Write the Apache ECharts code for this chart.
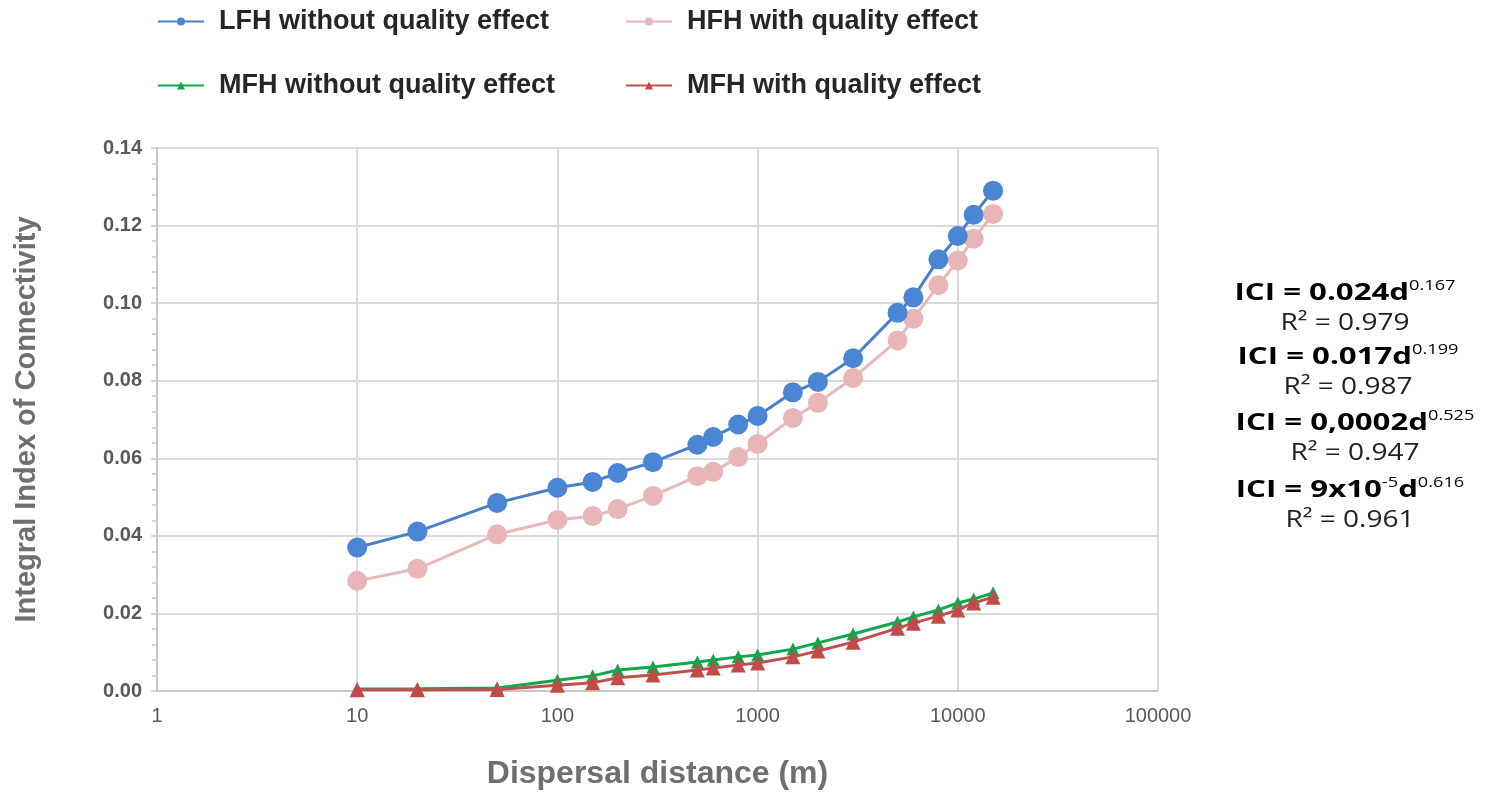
<!DOCTYPE html>
<html>
<head>
<meta charset="utf-8">
<script src="https://cdn.jsdelivr.net/npm/echarts@6/dist/echarts.min.js"></script>
<style>
html,body{margin:0;padding:0;background:#fff;}
#chart{width:1488px;height:796px;}
</style>
</head>
<body>
<div id="chart"></div>
<script>
// ---- data ----
const distances = [10, 20, 50, 100, 150, 200, 300, 500, 600, 800, 1000, 1500, 2000, 3000, 5000, 6000, 8000, 10000, 12000, 15000];
const lfhWithout = [0.0370, 0.0411, 0.0485, 0.0524, 0.0539, 0.0562, 0.0590, 0.0635, 0.0655, 0.0687, 0.0709, 0.0770, 0.0797, 0.0858, 0.0975, 0.1015, 0.1113, 0.1173, 0.1228, 0.1290];
const hfhWith = [0.0284, 0.0315, 0.0404, 0.0441, 0.0451, 0.0469, 0.0503, 0.0554, 0.0565, 0.0603, 0.0637, 0.0704, 0.0743, 0.0807, 0.0904, 0.0960, 0.1046, 0.1110, 0.1166, 0.1230];
const mfhWithout = [0.0005, 0.0006, 0.0008, 0.0028, 0.0039, 0.0054, 0.0062, 0.0075, 0.0080, 0.0088, 0.0093, 0.0108, 0.0124, 0.0147, 0.0178, 0.0191, 0.0209, 0.0227, 0.0237, 0.0253];
const mfhWith = [0.0003, 0.0003, 0.0004, 0.0015, 0.0021, 0.0034, 0.0041, 0.0054, 0.0059, 0.0067, 0.0072, 0.0088, 0.0103, 0.0126, 0.0162, 0.0175, 0.0193, 0.0209, 0.0227, 0.0242];
const seriesNames = ['LFH without quality effect', 'HFH with quality effect', 'MFH without quality effect', 'MFH with quality effect'];
const equations = [
  ['0.024', '0.167', '0.979'],
  ['0.017', '0.199', '0.987'],
  ['0,0002', '0.525', '0.947'],
  ['9x10', '0.616', '0.961']
];

const zip = (ys) => distances.map((d, i) => [d, ys[i]]);

const chart = echarts.init(document.getElementById('chart'), null, {renderer: 'canvas'});

const legendBase = {
  orient: 'horizontal',
  itemWidth: 46,
  itemHeight: 10,
  textStyle: {fontFamily: 'Liberation Sans', fontWeight: 'bold', fontSize: 27, color: '#262626', padding: [0, 0, 0, 10]},
  selectedMode: false
};

const eqTexts = [];
const eqY = [293, 357, 423, 490];
const eqX = [1345, 1348, 1355, 1350];
equations.forEach((e, i) => {
  let txt;
  if (i === 3) {
    txt = '{b|ICI = ' + e[0] + '}{s|-5}{b|d}{s|' + e[1] + '}';
  } else {
    txt = '{b|ICI = ' + e[0] + 'd}{s|' + e[1] + '}';
  }
  eqTexts.push({
    type: 'text', x: eqX[i], y: eqY[i], scaleX: 1.3,
    style: {
      text: txt, align: 'center', verticalAlign: 'middle',
      rich: {
        b: {fontFamily: 'Open Sans', fontWeight: 'bold', fontSize: 24, color: '#111', lineHeight: 28},
        s: {fontFamily: 'Open Sans', fontWeight: 'normal', fontSize: 14, color: '#111', verticalAlign: 'top', lineHeight: 14}
      }
    }
  });
  eqTexts.push({
    type: 'text', x: eqX[i], y: eqY[i] + 30, scaleX: 1.22,
    style: {
      text: 'R² = ' + e[2], align: 'center', verticalAlign: 'middle',
      fontFamily: 'Open Sans', fontWeight: 'normal', fontSize: 23, fill: '#222'
    }
  });
});

const option = {
  backgroundColor: '#ffffff',
  animation: false,
  grid: {left: 157, right: 330, top: 148, bottom: 105, containLabel: false},
  legend: [
    Object.assign({}, legendBase, {left: 152, top: 3, data: [seriesNames[0]]}),
    Object.assign({}, legendBase, {left: 620, top: 3, data: [seriesNames[1]]}),
    Object.assign({}, legendBase, {left: 152, top: 67, data: [seriesNames[2]]}),
    Object.assign({}, legendBase, {left: 620, top: 67, data: [seriesNames[3]]})
  ],
  xAxis: {
    type: 'log', logBase: 10, min: 1, max: 100000,
    name: 'Dispersal distance (m)', nameLocation: 'middle', nameGap: 67,
    nameTextStyle: {fontFamily: 'Liberation Sans', fontWeight: 'bold', fontSize: 32, color: '#6f6f6f', verticalAlign: 'top'},
    axisLine: {show: true, lineStyle: {color: '#c8c8c8', width: 2}},
    axisTick: {show: false},
    axisLabel: {fontFamily: 'Liberation Sans', fontSize: 20, color: '#595959', margin: 15,
      formatter: (v) => String(Math.round(v))},
    splitLine: {show: true, lineStyle: {color: '#dadada', width: 2}},
    minorTick: {show: false}
  },
  yAxis: {
    type: 'value', min: 0, max: 0.14, interval: 0.02,
    name: 'Integral Index of Connectivity', nameLocation: 'middle', nameGap: 116,
    nameTextStyle: {fontFamily: 'Liberation Sans', fontWeight: 'bold', fontSize: 29, color: '#6f6f6f'},
    axisLine: {show: true, lineStyle: {color: '#c8c8c8', width: 2}},
    axisTick: {show: true, length: 6, lineStyle: {color: '#c8c8c8', width: 1.5}},
    minorTick: {show: true, splitNumber: 5, length: 5, lineStyle: {color: '#c8c8c8', width: 1.5}},
    axisLabel: {fontFamily: 'Liberation Sans', fontWeight: 'bold', fontSize: 20, color: '#595959', margin: 15,
      formatter: (v) => v.toFixed(2)},
    splitLine: {show: true, lineStyle: {color: '#dadada', width: 2}}
  },
  series: [
    {
      name: seriesNames[0], type: 'line', data: zip(lfhWithout),
      symbol: 'circle', symbolSize: 20,
      lineStyle: {color: '#4a7fc9', width: 3},
      itemStyle: {color: '#4a86d4', borderWidth: 0},
      z: 3
    },
    {
      name: seriesNames[1], type: 'line', data: zip(hfhWith),
      symbol: 'circle', symbolSize: 20,
      lineStyle: {color: '#e9b8b8', width: 3},
      itemStyle: {color: '#e8b6b6', borderWidth: 0},
      z: 2
    },
    {
      name: seriesNames[2], type: 'line', data: zip(mfhWithout),
      symbol: 'triangle', symbolSize: 13,
      lineStyle: {color: '#12a64a', width: 3},
      itemStyle: {color: '#12a64a', borderWidth: 0},
      z: 4
    },
    {
      name: seriesNames[3], type: 'line', data: zip(mfhWith),
      symbol: 'triangle', symbolSize: 15,
      lineStyle: {color: '#c0504d', width: 3},
      itemStyle: {color: '#c24a47', borderWidth: 0},
      z: 5
    }
  ],
  graphic: eqTexts
};

chart.setOption(option);
</script>
</body>
</html>
